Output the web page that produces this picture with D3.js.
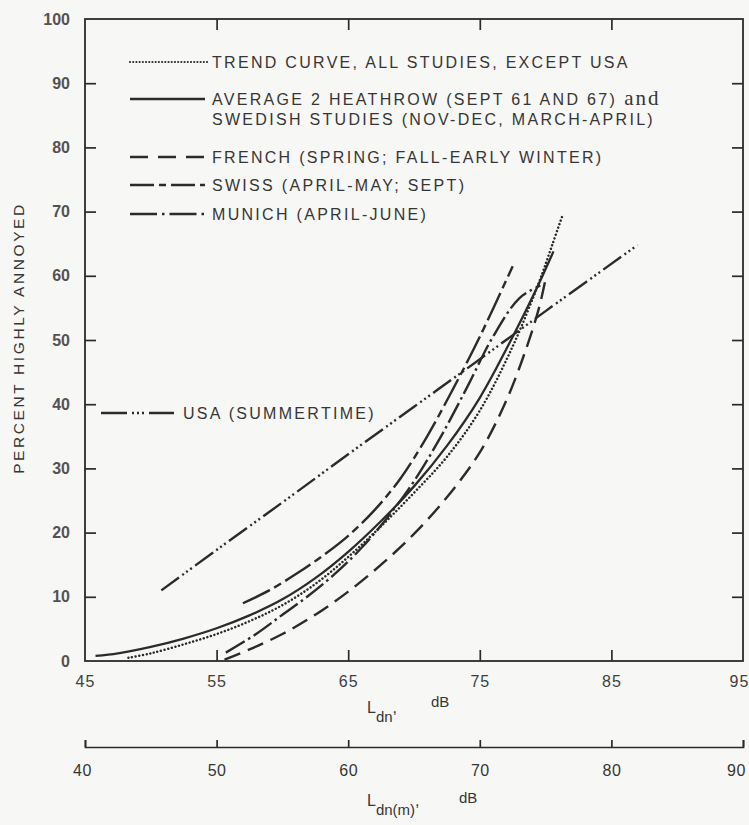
<!DOCTYPE html>
<html><head><meta charset="utf-8">
<script src="https://cdn.jsdelivr.net/npm/d3@7"></script>
<style>
html,body{margin:0;padding:0;background:#f7f7f5;}
svg{display:block;}
text{fill:#363636;font-family:"Liberation Sans",Arial,sans-serif;}
</style>
</head><body>
<svg id="c" width="749" height="825"></svg>
<script>
// ---------- data ----------
const yTicks = [0,10,20,30,40,50,60,70,80,90,100];
const xTicks = [45,55,65,75,85,95];
const x2Ticks = [40,50,60,70,80,90];

const trend = [[48.3,0.5],[50,1.2],[52.5,2.6],[55,4.2],[57.5,6.2],[60,8.7],[62.5,12],[65,16.2],[67.5,21],[70,26.2],[72.5,31.8],[75,39],[77.5,49],[79.5,59],[80.5,64.8],[81.3,69.5]];
const average = [[45.8,0.8],[47.5,1.2],[50,2.2],[52.5,3.5],[55,5.1],[57.5,7.1],[60,9.6],[62.5,12.9],[65,17],[67.5,21.8],[70,27.2],[72.5,33.5],[75,41],[77.5,50.5],[79.2,57.5],[80.6,63.8]];
const french = [[55.6,0.2],[57.5,1.8],[60,4.2],[62.5,7.2],[65,10.8],[67.5,15],[70,19.8],[72.5,25.5],[75,32.5],[77,40.5],[78.5,48.5],[79.5,55],[80,59.5]];
const swiss = [[57,9],[59,11],[61,13.5],[63,16.3],[65,19.5],[67,23.5],[69,28.5],[71,35],[73,42.5],[75,50.5],[77.5,61.5]];
const munich = [[55.7,1.3],[58,4.2],[60,7.2],[62,10.2],[64,13.6],[66,17.6],[68,22.4],[70,28],[72,34.8],[74,42.5],[76,50.5],[78,56.5],[79.6,58.5]];
const usa = [[50.8,11],[55,17.3],[60,24.7],[65,32.2],[70,39.6],[75,47],[80,54.5],[87,64.8]];

const legendLabels = {
  trend: ["TREND CURVE, ALL STUDIES, EXCEPT USA"],
  average: ["AVERAGE 2 HEATHROW (SEPT 61 AND 67)", "SWEDISH STUDIES (NOV-DEC, MARCH-APRIL)"],
  french: ["FRENCH (SPRING; FALL-EARLY WINTER)"],
  swiss: ["SWISS (APRIL-MAY; SEPT)"],
  munich: ["MUNICH (APRIL-JUNE)"],
  usa: ["USA (SUMMERTIME)"]
};
const yTitle = "PERCENT HIGHLY ANNOYED";

// ---------- styles / layout ----------
const styles = {
  trend:  {w:2.5, dash:"0.01,3.7", cap:"round"},
  average:{w:2.3, dash:null, cap:"butt"},
  french: {w:2.4, dash:"17,8", cap:"butt"},
  swiss:  {w:2.4, dash:"30,5,8,5", cap:"butt"},
  munich: {w:2.4, dash:"22,4,2.5,4", cap:"butt"},
  usa:    {w:2.4, dash:"22,4,2,3,2,3,2,4", cap:"butt"}
};
const series = [
  {key:"trend", data:trend},
  {key:"average", data:average},
  {key:"french", data:french},
  {key:"swiss", data:swiss},
  {key:"munich", data:munich},
  {key:"usa", data:usa}
];
const legendLayout = [
  {key:"trend", ly:62, x1:130, x2:208, tx:212},
  {key:"average", ly:99, x1:130, x2:205, tx:212},
  {key:"french", ly:157, x1:130, x2:205, tx:212},
  {key:"swiss", ly:185, x1:130, x2:205, tx:212},
  {key:"munich", ly:214, x1:130, x2:205, tx:212},
  {key:"usa", ly:413, x1:101, x2:174, tx:183}
];
const legendDash = {
  trend:"0.01,3.2", average:null, french:"18,10", swiss:"24,5,7,5", munich:"27,5,2.5,5", usa:"26,5,2,3,2,3,2,5"
};

const svg = d3.select("#c");
const ink = "#2b2b2b";
const x = d3.scaleLinear().domain([45,95]).range([85,743]);
const x2 = d3.scaleLinear().domain([40,90]).range([85,743]);
const y = d3.scaleLinear().domain([0,100]).range([661,19]);

// frame
svg.append("rect").attr("x",x(45)).attr("y",y(100))
  .attr("width",x(95)-x(45)).attr("height",y(0)-y(100))
  .attr("fill","none").attr("stroke",ink).attr("stroke-width",1.8);

function styleAxis(g){
  g.select(".domain").remove();
  g.selectAll(".tick line").attr("stroke",ink).attr("stroke-width",1.7);
  g.selectAll("text").attr("font-size",16).attr("fill","#333")
    .attr("font-family","'Liberation Sans',Arial,sans-serif").attr("font-weight","bold").style("opacity",0.85);
}
// left
const gl = svg.append("g").attr("transform",`translate(${x(45)},0)`)
  .call(d3.axisLeft(y).tickValues(yTicks).tickSize(-11).tickPadding(15).tickSizeOuter(0));
styleAxis(gl);
gl.selectAll(".tick").filter(d=>d===0||d===100).select("line").remove();
// right
const gr = svg.append("g").attr("transform",`translate(${x(95)},0)`)
  .call(d3.axisRight(y).tickValues(yTicks.slice(1,-1)).tickSize(-11).tickSizeOuter(0));
styleAxis(gr); gr.selectAll("text").remove();
// top
const gt = svg.append("g").attr("transform",`translate(0,${y(100)})`)
  .call(d3.axisTop(x).tickValues(xTicks.slice(1,-1)).tickSize(-11).tickSizeOuter(0));
styleAxis(gt); gt.selectAll("text").remove();
// bottom
const gb = svg.append("g").attr("transform",`translate(0,${y(0)})`)
  .call(d3.axisBottom(x).tickValues(xTicks).tickSize(-11).tickPadding(15).tickSizeOuter(0));
styleAxis(gb);
gb.selectAll(".tick").filter(d=>d===45||d===95).select("line").remove();
gb.selectAll("text").attr("font-weight","normal").attr("letter-spacing",1).style("opacity",0.95);
gb.selectAll(".tick").filter(d=>d===95).select("text").attr("x",-4);
// second axis
const g2 = svg.append("g").attr("transform",`translate(0,747)`)
  .call(d3.axisBottom(x2).tickValues(x2Ticks).tickSize(-7).tickSizeOuter(-7).tickPadding(18));
g2.select(".domain").attr("stroke",ink).attr("stroke-width",1.7).attr("fill","none");
g2.selectAll(".tick line").attr("stroke",ink).attr("stroke-width",1.7);
g2.selectAll("text").attr("font-size",16).attr("fill","#333").attr("letter-spacing",0.5)
  .attr("font-family","'Liberation Sans',Arial,sans-serif");
g2.selectAll(".tick").filter(d=>d===90).select("text").attr("x",-7);
g2.selectAll(".tick").filter(d=>d===40).select("text").attr("x",-3);

// axis titles
const mono = "'Liberation Mono','DejaVu Sans Mono',monospace";
function xTitle(xL, yb, sub, xdB, ydB){
  const t = svg.append("text").attr("font-family",mono).attr("font-size",16).attr("fill","#333");
  t.append("tspan").attr("x",xL).attr("y",yb).text("L");
  t.append("tspan").attr("dy",9).attr("font-size",15).text(sub);
  t.append("tspan").attr("dy",-9).text(",");
  svg.append("text").attr("font-family",mono).attr("font-size",15).attr("fill","#333")
    .attr("x",xdB).attr("y",ydB).text("dB");
}
xTitle(367, 713, "dn", 431, 707);
xTitle(367, 806, "dn(m)", 459, 803);

svg.append("text").attr("transform","translate(24,338) rotate(-90)")
  .attr("text-anchor","middle").attr("font-size",15.5).attr("letter-spacing",2.6)
  .text(yTitle);

// curves
const line = d3.line().x(d=>x(d[0])).y(d=>y(d[1])).curve(d3.curveCatmullRom.alpha(0.5));
svg.append("g").selectAll("path").data(series).join("path")
  .attr("d",d=>line(d.data))
  .attr("fill","none").attr("stroke",ink)
  .attr("stroke-width",d=>styles[d.key].w)
  .attr("stroke-dasharray",d=>styles[d.key].dash)
  .attr("stroke-linecap",d=>styles[d.key].cap);

// legend
const lg = svg.append("g");
legendLayout.forEach(L=>{
  lg.append("line").attr("x1",L.x1).attr("x2",L.x2).attr("y1",L.ly).attr("y2",L.ly)
    .attr("stroke",ink).attr("stroke-width",L.key==="trend"?2.2:2.4)
    .attr("stroke-dasharray",legendDash[L.key]).attr("stroke-linecap",L.key==="trend"?"round":"butt");
  const labels = legendLabels[L.key];
  labels.forEach((s,i)=>{
    const t = lg.append("text").attr("x",L.tx).attr("y",L.ly+6+i*20)
      .attr("font-size",16).attr("letter-spacing",2.3);
    t.append("tspan").text(s);
    if(L.key==="average" && i===0){
      t.append("tspan").attr("font-family","'Liberation Serif','DejaVu Serif',serif")
        .attr("font-size",21).attr("letter-spacing",2).text(" and");
    }
  });
});
</script>
</body></html>
